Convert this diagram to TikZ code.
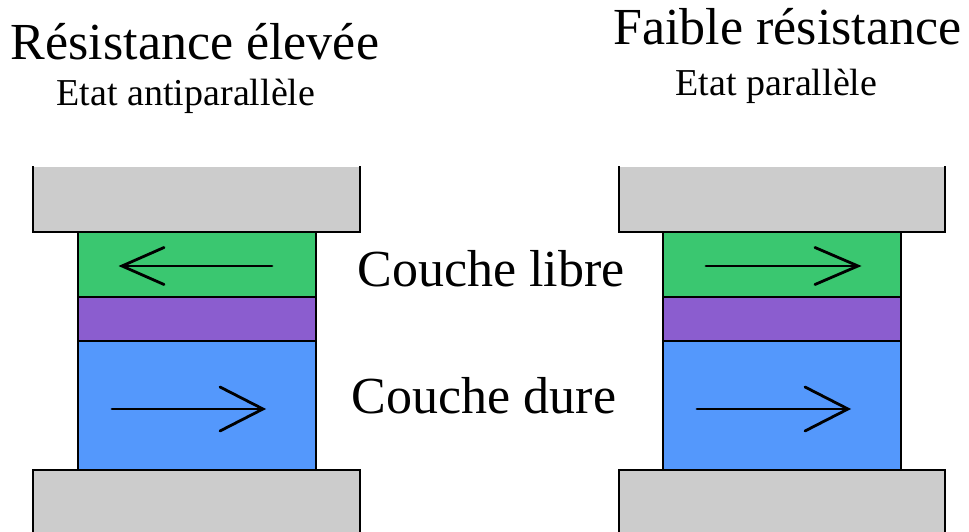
\documentclass[tikz,border=0pt]{standalone}
\usepackage{fontspec}
\setmainfont{Liberation Serif}
\definecolor{grayc}{RGB}{204,204,204}
\definecolor{greenc}{RGB}{58,199,112}
\definecolor{purplec}{RGB}{139,93,207}
\definecolor{bluec}{RGB}{84,152,252}
\tikzset{
  layer/.style={rectangle, inner sep=0pt, outer sep=0pt, draw=black, line width=2.8pt},
  plate/.style={rectangle, inner sep=0pt, outer sep=0pt, fill=grayc},
  edge/.style={line width=2.8pt, line cap=rect, line join=miter},
  mag/.style={line width=2.8pt, line cap=round, line join=miter},
  big/.style={font=\fontsize{52}{60}\selectfont, anchor=base, inner sep=0pt},
  small/.style={font=\fontsize{38}{44}\selectfont, anchor=base, inner sep=0pt},
}
\begin{document}
\begin{tikzpicture}[x=1pt,y=1pt]
\useasboundingbox (0,0) rectangle (969,532);
\fill[white] (0,0) rectangle (969,532);

% ---- left stack ----
\node[plate, minimum width=327pt, minimum height=65pt] (gtL) at (196.5,332.5) {};
\node[plate, minimum width=327pt, minimum height=70pt] (gbL) at (196.5,27) {};
\node[layer, fill=greenc, minimum width=238pt, minimum height=65pt] (grL) at (197,267.5) {};
\node[layer, fill=purplec, minimum width=238pt, minimum height=44pt] (puL) at (197,213) {};
\node[layer, fill=bluec, minimum width=238pt, minimum height=129pt] (blL) at (197,126.5) {};
\draw[edge] (gtL.north west) -- (gtL.south west) -- (gtL.south east) -- (gtL.north east);
\draw[edge] (gbL.south west) -- (gbL.north west) -- (gbL.north east) -- (gbL.south east);

% ---- right stack ----
\node[plate, minimum width=326pt, minimum height=65pt] (gtR) at (782,332.5) {};
\node[plate, minimum width=326pt, minimum height=70pt] (gbR) at (782,27) {};
\node[layer, fill=greenc, minimum width=238pt, minimum height=65pt] (grR) at (782,267.5) {};
\node[layer, fill=purplec, minimum width=238pt, minimum height=44pt] (puR) at (782,213) {};
\node[layer, fill=bluec, minimum width=238pt, minimum height=129pt] (blR) at (782,126.5) {};
\draw[edge] (gtR.north west) -- (gtR.south west) -- (gtR.south east) -- (gtR.north east);
\draw[edge] (gbR.south west) -- (gbR.north west) -- (gbR.north east) -- (gbR.south east);

% ---- magnetisation arrows ----
\coordinate (a1s) at (272,266); \coordinate (a1e) at (122,266);
\coordinate (a2s) at (112,123); \coordinate (a2e) at (263,123);
\coordinate (a3s) at (706,266); \coordinate (a3e) at (858,266);
\coordinate (a4s) at (697,123); \coordinate (a4e) at (848,123);
\draw[mag] (a1s) -- (a1e);
\draw[mag] (a1e) ++(42,18.5) -- (a1e) -- ++(42,-18.5);
\draw[mag] (a2s) -- (a2e);
\draw[mag] (a2e) ++(-43,22) -- (a2e) -- ++(-43,-22);
\draw[mag] (a3s) -- (a3e);
\draw[mag] (a3e) ++(-43,18.5) -- (a3e) -- ++(-43,-18.5);
\draw[mag] (a4s) -- (a4e);
\draw[mag] (a4e) ++(-43,22) -- (a4e) -- ++(-43,-22);

% ---- texts ----
\node[big] (t1) at (195,472) {Résistance élevée};
\node[small] (s1) at (186,426) {Etat antiparallèle};
\node[big] (t2) at (787.5,487) {Faible résistance};
\node[small] (s2) at (776.5,436) {Etat parallèle};
\node[big] (cl) at (491,245) {Couche libre};
\node[big] (cd) at (484,118) {Couche dure};
\end{tikzpicture}
\end{document}
